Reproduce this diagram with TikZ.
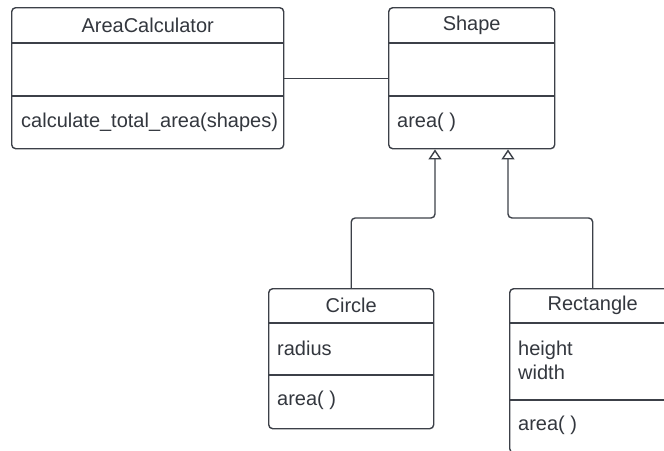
\documentclass[tikz,border=0pt]{standalone}
\usepackage{fontspec}
\setmainfont{Liberation Sans}
\usetikzlibrary{arrows.meta,calc}
\definecolor{linec}{RGB}{60,64,72}
\definecolor{textc}{RGB}{51,55,62}
\begin{document}
\begin{tikzpicture}[x=1pt,y=-1pt,
  every node/.style={font=\fontsize{20pt}{24pt}\selectfont, text=textc, inner sep=0pt},
  classbox/.style={draw=linec, line width=1.4pt, rounded corners=4pt, anchor=north west, fill=white},
  divider/.style={draw=linec, line width=1.4pt},
  member/.style={anchor=west, align=left},
  inherit/.style={draw=linec, line width=1.4pt, rounded corners=4pt,
    -{Triangle[open, width=13pt, length=10pt, fill=white]}},
  assoc/.style={draw=linec, line width=1.4pt}]
\useasboundingbox (0,0) rectangle (664,450);
\clip (0,0) rectangle (664,450);

% AreaCalculator
\node[classbox, minimum width=272pt, minimum height=141pt] (ac) at (11,7) {};
\draw[divider] ($(ac.north west)+(0,36)$) -- ($(ac.north east)+(0,36)$);
\draw[divider] ($(ac.north west)+(0,89)$) -- ($(ac.north east)+(0,89)$);
\node (acn) at ($(ac.north)+(0,18)$) {AreaCalculator};
\node[member] (acm) at ($(ac.north west)+(10,115)$) {calculate\_total\_area(shapes)};

% Shape
\node[classbox, minimum width=166pt, minimum height=141pt] (sh) at (388,7) {};
\draw[divider] ($(sh.north west)+(0,36)$) -- ($(sh.north east)+(0,36)$);
\draw[divider] ($(sh.north west)+(0,89)$) -- ($(sh.north east)+(0,89)$);
\node (shn) at ($(sh.north)+(0,18)$) {Shape};
\node[member] (shm) at ($(sh.north west)+(9,115)$) {area( )};

% Circle
\node[classbox, minimum width=165pt, minimum height=140pt] (ci) at (268,288) {};
\draw[divider] ($(ci.north west)+(0,35)$) -- ($(ci.north east)+(0,35)$);
\draw[divider] ($(ci.north west)+(0,87)$) -- ($(ci.north east)+(0,87)$);
\node (cin) at ($(ci.north)+(0,17.5)$) {Circle};
\node[member] (cia) at ($(ci.north west)+(9,60)$) {radius};
\node[member] (cim) at ($(ci.north west)+(9,112)$) {area( )};

% Rectangle
\node[classbox, minimum width=166pt, minimum height=164pt] (re) at (509,288) {};
\draw[divider] ($(re.north west)+(0,35)$) -- ($(re.north east)+(0,35)$);
\draw[divider] ($(re.north west)+(0,112)$) -- ($(re.north east)+(0,112)$);
\node (ren) at ($(re.north)+(0,17.5)$) {Rectangle};
\node[member] (rea) at ($(re.north west)+(9,72)$) {height\\width};
\node[member] (rem) at ($(re.north west)+(9,137)$) {area( )};

% association
\draw[assoc] (ac.east) -- (sh.west);

% generalisations
\coordinate (shc) at ($(sh.south west)+(47,0)$);
\coordinate (shr) at ($(sh.south west)+(120,0)$);
\draw[inherit] (ci.north) -- ($(ci.north)+(0,-70)$) -| (shc);
\draw[inherit] (re.north) -- ($(re.north)+(0,-70)$) -| (shr);
\end{tikzpicture}
\end{document}
